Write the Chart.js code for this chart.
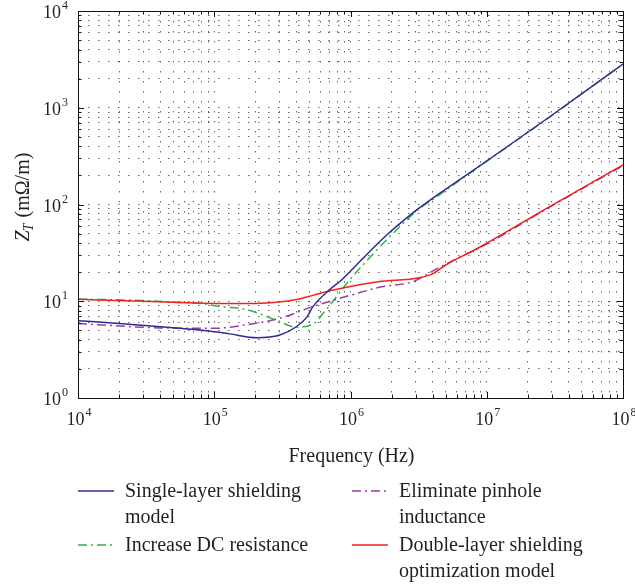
<!DOCTYPE html>
<html>
<head>
<meta charset="utf-8">
<script src="https://cdn.jsdelivr.net/npm/chart.js@4.4.1/dist/chart.umd.min.js"></script>
<style>
  html, body { margin: 0; padding: 0; background: #fff; }
  #wrap { width: 635px; height: 584px; position: relative; }
</style>
</head>
<body>
<div id="wrap"><canvas id="ztChart"></canvas></div>
<script>
// === Data ===
const singleF = [1e4, 2e4, 5.6e4, 1e5, 1.3e5, 2.05e5, 3e5, 4e5, 4.8e5, 5.3e5, 7e5, 8.6e5, 1.2e6, 1.6e6, 1.95e6, 2.5e6, 3.06e6, 4.5e6, 8e6, 1.25e7, 2.9e7, 1e8];
const singleZ = [6.3, 5.9, 5.25, 4.85, 4.6, 4.2, 4.45, 5.45, 6.9, 8.8, 13.1, 16.6, 26.7, 40, 52, 70, 88, 130, 227, 351, 807, 2830];

const dcResF = [1e4, 3e4, 5.6e4, 7.9e4, 1.1e5, 1.73e5, 2.87e5, 4e5, 5.5e5, 6.3e5, 7.4e5, 9.6e5, 1.47e6, 2.3e6, 3.06e6, 4.5e6, 8e6, 1.25e7, 2.9e7, 1e8];
const dcResZ = [10.5, 10.2, 9.7, 9.5, 8.8, 8.2, 6.35, 5.4, 6.0, 7.5, 9.9, 15.9, 31, 59, 86, 126, 225, 348, 800, 2830];

const pinholeF = [1e4, 2e4, 4e4, 1e5, 1.7e5, 3e5, 5.3e5, 1.08e6, 1.7e6, 2.9e6, 4e6, 6e6, 9e6, 2.75e7, 1e8];
const pinholeZ = [5.9, 5.55, 5.3, 5.25, 5.7, 6.65, 8.8, 11.9, 14.1, 16, 20.5, 27.5, 36, 90, 252];

const doubleF = [1e4, 3e4, 5.6e4, 1e5, 2e5, 3e5, 4e5, 5.3e5, 7e5, 1e6, 1.6e6, 3.2e6, 4e6, 5e6, 9e6, 2.75e7, 1e8];
const doubleZ = [10.5, 10.0, 9.7, 9.5, 9.5, 9.8, 10.4, 11.5, 12.8, 14.2, 15.9, 17.5, 19.2, 23.7, 36.6, 91.4, 256];

const X_EXPS = [4, 5, 6, 7, 8];
const Y_EXPS = [0, 1, 2, 3, 4];
const X_TITLE = 'Frequency (Hz)';
const SERIES_NAMES = [
  ['Single-layer shielding', 'model'],
  ['Increase DC resistance'],
  ['Eliminate pinhole', 'inductance'],
  ['Double-layer shielding', 'optimization model']
];

// === Style ===
const SERIF = '"Liberation Serif", "Times New Roman", serif';
const TXT = '#231f20';
const C_BLUE = '#2e2b96', C_GREEN = '#33b34a', C_PURPLE = '#9d3aa6', C_RED = '#f0221c';

function logTicks(e0, e1) {
  const out = [];
  for (let e = e0; e < e1; e++) {
    for (let m = 1; m <= 9; m++) out.push(m * Math.pow(10, e));
  }
  out.push(Math.pow(10, e1));
  return out;
}

function pts(fs, zs) {
  return fs.map((f, i) => ({ x: f, y: zs[i] }));
}

function powLabel(ctx, exp, x, y, align) {
  ctx.font = `18px ${SERIF}`;
  const w1 = ctx.measureText('10').width;
  ctx.font = `12px ${SERIF}`;
  const w2 = ctx.measureText(String(exp)).width;
  const total = w1 + 1 + w2;
  const x0 = align === 'center' ? x - total / 2 : x - total;
  ctx.textAlign = 'left';
  ctx.textBaseline = 'alphabetic';
  ctx.font = `18px ${SERIF}`;
  ctx.fillText('10', x0, y);
  ctx.font = `12px ${SERIF}`;
  ctx.fillText(String(exp), x0 + w1 + 1, y - 9);
}

const decor = {
  id: 'decor',
  afterDraw(chart) {
    const { ctx, chartArea: a, scales } = chart;
    const xs = scales.x, ys = scales.y;
    ctx.save();

    // box
    ctx.strokeStyle = '#111';
    ctx.lineWidth = 1;
    ctx.setLineDash([]);
    ctx.strokeRect(Math.round(a.left) + 0.5, Math.round(a.top) + 0.5,
      Math.round(a.right - a.left), Math.round(a.bottom - a.top));

    // inward ticks on all four sides
    ctx.beginPath();
    xs.ticks.forEach(t => {
      const major = Math.abs(Math.log10(t.value) % 1) < 1e-9;
      const len = major ? 6 : 3.5;
      const px = Math.round(xs.getPixelForValue(t.value)) + 0.5;
      ctx.moveTo(px, a.bottom); ctx.lineTo(px, a.bottom - len);
      ctx.moveTo(px, a.top); ctx.lineTo(px, a.top + len);
    });
    ys.ticks.forEach(t => {
      const major = Math.abs(Math.log10(t.value) % 1) < 1e-9;
      const len = major ? 6 : 3.5;
      const py = Math.round(ys.getPixelForValue(t.value)) + 0.5;
      ctx.moveTo(a.left, py); ctx.lineTo(a.left + len, py);
      ctx.moveTo(a.right, py); ctx.lineTo(a.right - len, py);
    });
    ctx.stroke();

    // tick labels
    ctx.fillStyle = TXT;
    X_EXPS.forEach(e => powLabel(ctx, e, xs.getPixelForValue(Math.pow(10, e)) + 1, a.bottom + 27, 'center'));
    Y_EXPS.forEach(e => powLabel(ctx, e, 68, ys.getPixelForValue(Math.pow(10, e)) + 7, 'right'));

    // x title
    ctx.font = `20px ${SERIF}`;
    ctx.textAlign = 'center';
    ctx.textBaseline = 'alphabetic';
    ctx.fillText(X_TITLE, (a.left + a.right) / 2 + 1, 462);

    // y title: Z_T (mΩ/m)
    ctx.save();
    ctx.translate(29, 197);
    ctx.rotate(-Math.PI / 2);
    ctx.font = `italic 20px ${SERIF}`;
    const wZ = ctx.measureText('Z').width;
    ctx.font = `italic 14px ${SERIF}`;
    const wT = ctx.measureText('T').width;
    ctx.font = `20px ${SERIF}`;
    const rest = ' (m\u03A9/m)';
    const wR = ctx.measureText(rest).width;
    let x0 = -(wZ + wT + wR) / 2;
    ctx.textAlign = 'left';
    ctx.font = `italic 20px ${SERIF}`;
    ctx.fillText('Z', x0, 0);
    ctx.font = `italic 14px ${SERIF}`;
    ctx.fillText('T', x0 + wZ - 1, 4);
    ctx.font = `20px ${SERIF}`;
    ctx.fillText(rest, x0 + wZ + wT, 0);
    ctx.restore();

    // legend (two columns)
    const slots = [
      { ds: 0, x: 78, y: 491 },
      { ds: 1, x: 78, y: 545 },
      { ds: 2, x: 352, y: 491 },
      { ds: 3, x: 352, y: 545 }
    ];
    slots.forEach(s => {
      const d = chart.data.datasets[s.ds];
      ctx.beginPath();
      ctx.strokeStyle = d.borderColor;
      ctx.lineWidth = d.borderWidth;
      ctx.setLineDash(d.borderDash || []);
      ctx.moveTo(s.x, s.y); ctx.lineTo(s.x + 36, s.y);
      ctx.stroke();
      ctx.setLineDash([]);
      ctx.fillStyle = TXT;
      ctx.font = `20px ${SERIF}`;
      ctx.textAlign = 'left';
      ctx.textBaseline = 'middle';
      SERIES_NAMES[s.ds].forEach((line, i) => ctx.fillText(line, s.x + 47, s.y + 1 + i * 26));
    });

    ctx.restore();
  }
};

const gridOpts = {
  grid: { color: 'rgba(0,0,0,0.6)', lineWidth: 1, drawTicks: false },
  border: { display: false, dash: [1.5, 8.5] }
};

new Chart(document.getElementById('ztChart'), {
  type: 'line',
  data: {
    datasets: [
      { label: SERIES_NAMES[0].join(' '), data: pts(singleF, singleZ), borderColor: C_BLUE, borderWidth: 1.5, order: 0 },
      { label: SERIES_NAMES[1].join(' '), data: pts(dcResF, dcResZ), borderColor: C_GREEN, borderWidth: 1.5, borderDash: [9, 4, 2, 4], order: 3 },
      { label: SERIES_NAMES[2].join(' '), data: pts(pinholeF, pinholeZ), borderColor: C_PURPLE, borderWidth: 1.5, borderDash: [9, 4, 2, 4], order: 2 },
      { label: SERIES_NAMES[3].join(' '), data: pts(doubleF, doubleZ), borderColor: C_RED, borderWidth: 1.5, order: 1 }
    ]
  },
  options: {
    responsive: true,
    maintainAspectRatio: false,
    animation: false,
    devicePixelRatio: 1,
    layout: { padding: { top: 11, right: 12, bottom: 0, left: 0 } },
    datasets: {
      line: { pointRadius: 0, fill: false, cubicInterpolationMode: 'monotone' }
    },
    scales: {
      x: {
        type: 'logarithmic',
        min: 1e4,
        max: 1e8,
        ticks: { display: false },
        afterBuildTicks: s => { s.ticks = logTicks(4, 8).map(v => ({ value: v })); },
        afterFit: s => { s.height = 186; },
        ...gridOpts
      },
      y: {
        type: 'logarithmic',
        min: 1,
        max: 1e4,
        ticks: { display: false },
        afterBuildTicks: s => { s.ticks = logTicks(0, 4).map(v => ({ value: v })); },
        afterFit: s => { s.width = 78; },
        ...gridOpts
      }
    },
    plugins: {
      legend: { display: false },
      tooltip: { enabled: false }
    }
  },
  plugins: [decor]
});
</script>
</body>
</html>
